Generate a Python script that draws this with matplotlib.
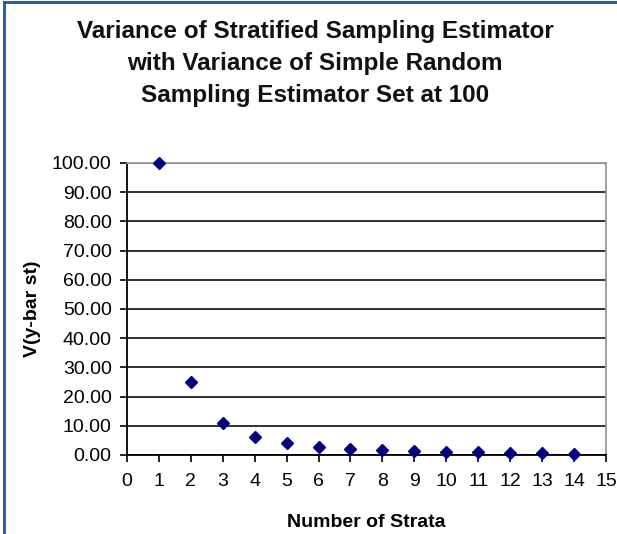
import matplotlib.pyplot as plt
from matplotlib.lines import Line2D

# ===== DATA =====
strata = [1, 2, 3, 4, 5, 6, 7, 8, 9, 10, 11, 12, 13, 14]
variance = [100.0, 25.0, 11.1, 6.25, 4.0, 2.8, 2.05, 1.55, 1.25, 1.0, 0.85, 0.7, 0.6, 0.5]
y_ticks = [0, 10, 20, 30, 40, 50, 60, 70, 80, 90, 100]
x_ticks = list(range(0, 16))

title = ("Variance of Stratified Sampling Estimator\n"
         "with Variance of Simple Random\n"
         "Sampling Estimator Set at 100")

plt.rcParams["font.family"] = ["Liberation Sans", "DejaVu Sans"]

fig = plt.figure(figsize=(6.17, 5.34), dpi=100)
ax = fig.add_axes([0.2058, 0.148, 0.982 - 0.2058, 0.6948 - 0.148])

ax.plot(strata, variance, "D", ms=6, color="#000080", clip_on=False, zorder=5)

ax.set_xlim(0, 15)
ax.set_ylim(0, 100)
ax.set_xticks(x_ticks)
ax.set_yticks(y_ticks)
ax.set_yticklabels([f"{v:.2f}" for v in y_ticks])
ax.tick_params(axis="both", direction="out", length=5, width=1.2,
               labelsize=14, colors="black")
ax.tick_params(axis="x", pad=8)
ax.tick_params(axis="y", pad=6)

ax.grid(axis="y", color="#222222", lw=1.3)
ax.set_axisbelow(True)
ax.spines["left"].set_linewidth(1.3)
ax.spines["bottom"].set_linewidth(1.3)
ax.spines["top"].set_color("#9a9a9a")
ax.spines["right"].set_color("#9a9a9a")
ax.spines["top"].set_linewidth(1.3)
ax.spines["right"].set_linewidth(1.3)

ax.set_xlabel("Number of Strata", fontsize=14, fontweight="bold", labelpad=17)
ax.set_ylabel("V(y-bar st)", fontsize=14, fontweight="bold", labelpad=8)

fig.text(0.511, 0.962, title, ha="center", va="top", fontsize=17.5,
         fontweight="bold", linespacing=1.5, color="#111111")

# outer window border (blue, top and left)
fig.add_artist(Line2D([0.006, 1], [0.996, 0.996], color="#2b4ea0", lw=2))
fig.add_artist(Line2D([0.006, 0.006], [0, 0.996], color="#2b4ea0", lw=2))

fig.savefig("out.png", dpi=100)
